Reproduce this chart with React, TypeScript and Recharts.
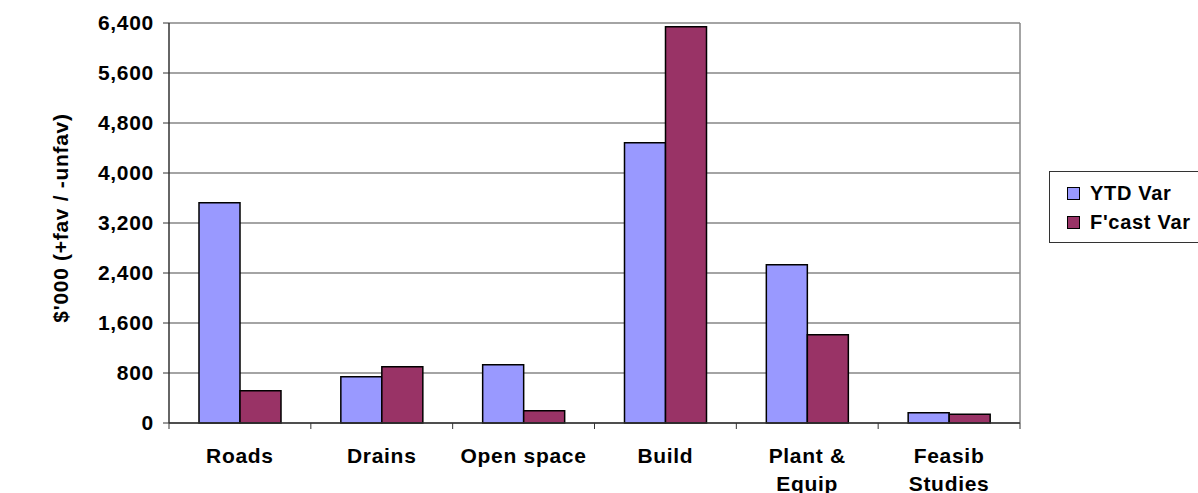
import React from 'react';
import {
    BarChart,
    Bar,
    XAxis,
    YAxis,
    CartesianGrid,
    Legend,
} from 'recharts';

// Values ($'000)
const categories = ['Roads', 'Drains', 'Open space', 'Build', 'Plant & Equip', 'Feasib Studies'];
const ytdVar = [3525, 741, 933, 4485, 2533, 165];
const fcastVar = [517, 901, 197, 6341, 1413, 139];
const yTicks = [0, 800, 1600, 2400, 3200, 4000, 4800, 5600, 6400];
const seriesOrder = ['ytd', 'fcast'];

const data = categories.map((name, i) => ({
    name,
    ytd: ytdVar[i],
    fcast: fcastVar[i],
}));

const FONT = '"Liberation Sans", Arial, sans-serif';
const TEXT_STYLE = { fontFamily: FONT, fontWeight: 700, fontSize: 21, letterSpacing: 0.7 };
const CHART_W = 1198;
const CHART_H = 493;
const MARGIN = { top: 23, right: 178, bottom: 0, left: 0 };
const Y_AXIS_W = 169;
const X_AXIS_H = 70;

const formatTick = (v: number) => v.toLocaleString('en-US');

// long labels wrap onto two lines, like the original
const splitLabel = (label: string) => {
    if (label.length <= 10) return [label];
    const cut = label.lastIndexOf(' ');
    return [label.slice(0, cut), label.slice(cut + 1)];
};

// category label plus a small tick at the left edge of its band
const CategoryTick = (props: any) => {
    const { x, y, payload, index } = props;
    const band = (CHART_W - MARGIN.right - Y_AXIS_W) / categories.length;
    const left = x - band / 2;
    const lines = splitLabel(payload.value);
    return (
        <g>
            <line x1={left} y1={y - 8} x2={left} y2={y - 2} stroke="#333" />
            {index === categories.length - 1 && (
                <line x1={left + band} y1={y - 8} x2={left + band} y2={y - 2} stroke="#333" />
            )}
            <text x={x} y={y + 32} textAnchor="middle" fill="#000" style={TEXT_STYLE}>
                {lines.map((line, i) => (
                    <tspan key={i} x={x} dy={i === 0 ? 0 : 28}>
                        {line}
                    </tspan>
                ))}
            </text>
        </g>
    );
};

const renderLegend = (props: any) => {
    const payload = [...(props.payload || [])].sort(
        (a: any, b: any) => seriesOrder.indexOf(a.dataKey) - seriesOrder.indexOf(b.dataKey)
    );
    return (
        <div
            style={{
                border: '1px solid #333',
                width: 175,
                height: 72,
                boxSizing: 'border-box',
                paddingTop: 7,
                paddingLeft: 17,
                background: '#fff',
            }}
        >
            {payload.map((entry: any) => (
                <div
                    key={entry.value}
                    style={{
                        display: 'flex',
                        alignItems: 'center',
                        height: 29,
                        color: '#000',
                        whiteSpace: 'nowrap',
                        ...TEXT_STYLE,
                        fontSize: 20,
                    }}
                >
                    <span
                        style={{
                            display: 'inline-block',
                            width: 11,
                            height: 11,
                            background: entry.color,
                            border: '1px solid #000',
                            marginRight: 10,
                        }}
                    />
                    {entry.value}
                </div>
            ))}
        </div>
    );
};

const App: React.FC = () => {
    return (
        <div style={{ position: 'absolute', left: 0, top: 0, width: CHART_W, height: CHART_H, overflow: 'hidden', background: '#fff' }}>
            <BarChart
                width={CHART_W}
                height={CHART_H}
                data={data}
                margin={MARGIN}
                barCategoryGap={30}
                barGap={0}
            >
                <CartesianGrid
                    stroke="#868686"
                    strokeWidth={1.5}
                    vertical={true}
                    verticalCoordinatesGenerator={({ offset }: any) => [offset.left + offset.width]}
                />
                <XAxis
                    dataKey="name"
                    height={X_AXIS_H}
                    axisLine={{ stroke: '#333', strokeWidth: 1.5 }}
                    tickLine={false}
                    interval={0}
                    tick={<CategoryTick />}
                />
                <YAxis
                    width={Y_AXIS_W}
                    domain={[0, 6400]}
                    ticks={yTicks}
                    interval={0}
                    tickFormatter={formatTick}
                    axisLine={{ stroke: '#333', strokeWidth: 1.5 }}
                    tickLine={{ stroke: '#333' }}
                    tickSize={6}
                    tickMargin={9}
                    tick={{ fill: '#000', ...TEXT_STYLE }}
                    label={{
                        content: () => (
                            <text
                                x={60}
                                y={218}
                                transform="rotate(-90 60 218)"
                                textAnchor="middle"
                                dominantBaseline="central"
                                style={TEXT_STYLE}
                                fill="#000"
                            >
                                $'000 (+fav / -unfav)
                            </text>
                        ),
                    }}
                />
                <Legend
                    layout="vertical"
                    align="center"
                    verticalAlign="middle"
                    content={renderLegend}
                    wrapperStyle={{ left: 1049, top: 171, width: 175 }}
                />
                <Bar
                    dataKey="ytd"
                    name="YTD Var"
                    fill="#9999FF"
                    stroke="#000"
                    strokeWidth={1.5}
                    isAnimationActive={false}
                />
                <Bar
                    dataKey="fcast"
                    name="F'cast Var"
                    fill="#993366"
                    stroke="#000"
                    strokeWidth={1.5}
                    isAnimationActive={false}
                />
            </BarChart>
        </div>
    );
};

export default App;
